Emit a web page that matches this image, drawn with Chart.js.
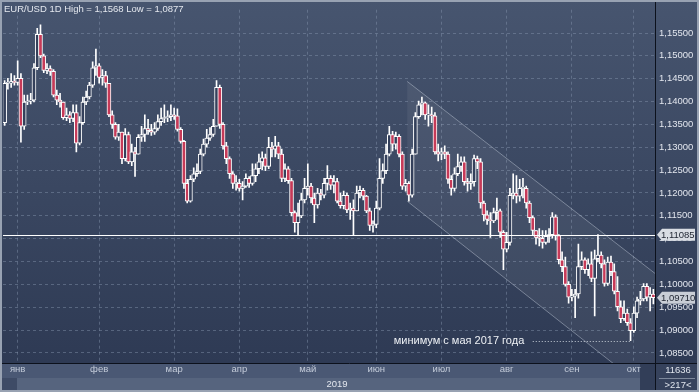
<!DOCTYPE html>
<html lang="ru">
<head>
<meta charset="utf-8" />
<title>EUR/USD 1D</title>
<style>
  html, body { margin: 0; padding: 0; background: #2c3852; }
  #wrap { width: 699px; height: 392px; }
</style>
</head>
<body>
<div id="wrap"><canvas id="chart" width="699" height="392"></canvas></div>
<script src="https://cdn.jsdelivr.net/npm/chart.js@4.4.4/dist/chart.umd.min.js"></script>
<script>
// daily EUR/USD, late Dec 2018 .. early Oct 2019 (one value per bar)
const firstOpen = 1.1354;
const closes = [
  1.1440, 1.1440, 1.1444, 1.1442, 1.1451, 1.1346, 1.1399, 1.1401, 1.1403, 1.1474,
  1.1547, 1.1500, 1.1468, 1.1472, 1.1466, 1.1414, 1.1403, 1.1399, 1.1365, 1.1371,
  1.1363, 1.1376, 1.1309, 1.1354, 1.1399, 1.1410, 1.1436, 1.1474, 1.1478, 1.1453,
  1.1457, 1.1440, 1.1371, 1.1350, 1.1322, 1.1333, 1.1275, 1.1328, 1.1268, 1.1290,
  1.1285, 1.1322, 1.1328, 1.1341, 1.1337, 1.1333, 1.1341, 1.1356, 1.1363, 1.1365,
  1.1367, 1.1371, 1.1369, 1.1339, 1.1313, 1.1221, 1.1182, 1.1230, 1.1242, 1.1247,
  1.1285, 1.1307, 1.1320, 1.1328, 1.1346, 1.1431, 1.1350, 1.1303, 1.1275, 1.1242,
  1.1221, 1.1221, 1.1210, 1.1215, 1.1232, 1.1221, 1.1238, 1.1253, 1.1268, 1.1277,
  1.1258, 1.1300, 1.1296, 1.1303, 1.1285, 1.1232, 1.1253, 1.1227, 1.1157, 1.1135,
  1.1150, 1.1185, 1.1210, 1.1215, 1.1189, 1.1174, 1.1200, 1.1195, 1.1221, 1.1232,
  1.1217, 1.1225, 1.1182, 1.1172, 1.1195, 1.1163, 1.1167, 1.1161, 1.1200, 1.1206,
  1.1193, 1.1161, 1.1129, 1.1131, 1.1167, 1.1232, 1.1249, 1.1285, 1.1328, 1.1307,
  1.1324, 1.1285, 1.1215, 1.1221, 1.1195, 1.1285, 1.1367, 1.1393, 1.1397, 1.1371,
  1.1371, 1.1369, 1.1290, 1.1285, 1.1290, 1.1285, 1.1230, 1.1210, 1.1242, 1.1258,
  1.1268, 1.1225, 1.1221, 1.1225, 1.1275, 1.1268, 1.1178, 1.1152, 1.1142, 1.1139,
  1.1157, 1.1161, 1.1114, 1.1077, 1.1092, 1.1195, 1.1200, 1.1193, 1.1210, 1.1210,
  1.1178, 1.1146, 1.1118, 1.1103, 1.1101, 1.1092, 1.1105, 1.1109, 1.1148, 1.1107,
  1.1054, 1.1039, 1.1000, 1.0972, 1.0974, 1.0979, 1.1039, 1.1054, 1.1032, 1.1045,
  1.1013, 1.1056, 1.1064, 1.1045, 1.1002, 1.1049, 1.1028, 1.0985, 1.0951, 1.0925,
  1.0937, 1.0916, 1.0899, 1.0937, 1.0964, 1.0968, 1.0996, 1.0972, 1.0979, 1.0971
];
const highs = [
  1.1446, 1.1451, 1.1461, 1.1457, 1.1489, 1.1461, 1.1414, 1.1414, 1.1418, 1.1483,
  1.1560, 1.1568, 1.1504, 1.1483, 1.1478, 1.1470, 1.1425, 1.1418, 1.1399, 1.1386,
  1.1378, 1.1393, 1.1393, 1.1367, 1.1410, 1.1423, 1.1442, 1.1487, 1.1515, 1.1483,
  1.1470, 1.1466, 1.1440, 1.1380, 1.1354, 1.1350, 1.1333, 1.1341, 1.1333, 1.1307,
  1.1300, 1.1328, 1.1346, 1.1371, 1.1361, 1.1350, 1.1354, 1.1371, 1.1386, 1.1393,
  1.1380, 1.1393, 1.1386, 1.1384, 1.1343, 1.1315, 1.1230, 1.1238, 1.1255, 1.1264,
  1.1296, 1.1318, 1.1339, 1.1343, 1.1361, 1.1446, 1.1436, 1.1354, 1.1311, 1.1279,
  1.1247, 1.1238, 1.1230, 1.1225, 1.1242, 1.1236, 1.1264, 1.1264, 1.1285, 1.1290,
  1.1285, 1.1322, 1.1311, 1.1324, 1.1311, 1.1296, 1.1264, 1.1258, 1.1232, 1.1161,
  1.1178, 1.1200, 1.1232, 1.1264, 1.1221, 1.1200, 1.1210, 1.1208, 1.1232, 1.1260,
  1.1238, 1.1238, 1.1232, 1.1200, 1.1204, 1.1200, 1.1178, 1.1185, 1.1215, 1.1215,
  1.1210, 1.1195, 1.1167, 1.1139, 1.1182, 1.1275, 1.1264, 1.1307, 1.1346, 1.1335,
  1.1333, 1.1328, 1.1290, 1.1230, 1.1225, 1.1296, 1.1376, 1.1401, 1.1410, 1.1399,
  1.1393, 1.1388, 1.1376, 1.1307, 1.1298, 1.1303, 1.1290, 1.1238, 1.1255, 1.1285,
  1.1279, 1.1279, 1.1232, 1.1242, 1.1283, 1.1281, 1.1275, 1.1182, 1.1161, 1.1157,
  1.1167, 1.1189, 1.1165, 1.1118, 1.1114, 1.1210, 1.1242, 1.1238, 1.1230, 1.1232,
  1.1215, 1.1182, 1.1150, 1.1118, 1.1122, 1.1118, 1.1118, 1.1122, 1.1157, 1.1152,
  1.1109, 1.1071, 1.1060, 1.1006, 1.0989, 1.0989, 1.1088, 1.1071, 1.1058, 1.1056,
  1.1071, 1.1075, 1.1109, 1.1071, 1.1054, 1.1060, 1.1062, 1.1045, 1.1017, 1.0964,
  1.0964, 1.0946, 1.0925, 1.0951, 1.0972, 1.0985, 1.1002, 1.1002, 1.0993, 1.0989
];
const lows = [
  1.1348, 1.1427, 1.1431, 1.1436, 1.1436, 1.1311, 1.1339, 1.1393, 1.1395, 1.1399,
  1.1470, 1.1496, 1.1463, 1.1461, 1.1457, 1.1410, 1.1393, 1.1388, 1.1361, 1.1358,
  1.1354, 1.1356, 1.1290, 1.1305, 1.1350, 1.1393, 1.1406, 1.1431, 1.1457, 1.1440,
  1.1436, 1.1431, 1.1367, 1.1341, 1.1318, 1.1315, 1.1264, 1.1270, 1.1264, 1.1260,
  1.1236, 1.1285, 1.1313, 1.1313, 1.1328, 1.1326, 1.1328, 1.1337, 1.1348, 1.1354,
  1.1356, 1.1358, 1.1361, 1.1335, 1.1309, 1.1210, 1.1178, 1.1180, 1.1225, 1.1236,
  1.1242, 1.1281, 1.1300, 1.1315, 1.1324, 1.1346, 1.1341, 1.1296, 1.1264, 1.1232,
  1.1210, 1.1206, 1.1204, 1.1185, 1.1212, 1.1212, 1.1217, 1.1225, 1.1242, 1.1251,
  1.1249, 1.1253, 1.1279, 1.1279, 1.1275, 1.1225, 1.1225, 1.1221, 1.1150, 1.1114,
  1.1109, 1.1146, 1.1178, 1.1195, 1.1178, 1.1135, 1.1167, 1.1185, 1.1189, 1.1206,
  1.1208, 1.1200, 1.1178, 1.1167, 1.1165, 1.1157, 1.1142, 1.1109, 1.1161, 1.1189,
  1.1185, 1.1157, 1.1118, 1.1114, 1.1124, 1.1163, 1.1221, 1.1242, 1.1281, 1.1292,
  1.1296, 1.1279, 1.1208, 1.1204, 1.1182, 1.1191, 1.1285, 1.1363, 1.1371, 1.1361,
  1.1346, 1.1354, 1.1285, 1.1270, 1.1273, 1.1275, 1.1221, 1.1195, 1.1204, 1.1238,
  1.1247, 1.1217, 1.1204, 1.1208, 1.1215, 1.1253, 1.1167, 1.1139, 1.1131, 1.1103,
  1.1135, 1.1142, 1.1103, 1.1032, 1.1071, 1.1086, 1.1187, 1.1178, 1.1182, 1.1189,
  1.1167, 1.1135, 1.1109, 1.1088, 1.1084, 1.1079, 1.1088, 1.1092, 1.1101, 1.1097,
  1.1045, 1.1028, 1.0996, 1.0959, 1.0964, 1.0927, 1.0970, 1.1032, 1.1024, 1.1019,
  1.1006, 1.0931, 1.1049, 1.1036, 1.0996, 1.0998, 1.1019, 1.0979, 1.0942, 1.0916,
  1.0921, 1.0910, 1.0877, 1.0895, 1.0927, 1.0955, 1.0964, 1.0964, 1.0942, 1.0957
];

// x axis: month names and the bar where each month starts
const monthLabels = ['янв', 'фев', 'мар', 'апр', 'май', 'июн', 'июл', 'авг', 'сен', 'окт'];
const monthIndex = [4, 29, 52, 72, 93, 114, 134, 154, 174, 193];
const yearLabel = '2019';

// y axis
const yTicks = [1.085, 1.09, 1.095, 1.1, 1.105, 1.11, 1.115, 1.12, 1.125, 1.13, 1.135, 1.14, 1.145, 1.15, 1.155];
const yMin = 1.0828;
const yMax = 1.1601;

// drawn objects
const levelLine = 1.11085;
const lastPrice = 1.0971;
const channelBars = [123.5, 199.5];
const channelUpper = [1.1444, 1.1024];
const channelLower = [1.1182, 1.0755];
const noteText = 'минимум с мая 2017 года';
const noteBars = [159.4, 162, 192];
const notePrice = 1.0877;
const titleText = 'EUR/USD 1D High = 1,1568 Low = 1,0877';
const cornerText = ['11636', '>217<'];

const opens = closes.map((c, i) => i ? closes[i - 1] : firstOpen);
const labels = closes.map((c, i) => {
  const k = monthIndex.indexOf(i);
  return k >= 0 ? monthLabels[k] : '';
});
const fmt = v => v.toFixed(5).replace('.', ',');
const FONT = "'Liberation Sans', Arial, sans-serif";

const chartBg = {
  id: 'chartBg',
  beforeDraw(chart) {
    const { ctx, chartArea: a, width, height } = chart;
    ctx.save();
    const g = ctx.createLinearGradient(0, 0, 0, a.bottom);
    g.addColorStop(0, '#47556f');
    g.addColorStop(1, '#2e3a54');
    ctx.fillStyle = g;
    ctx.fillRect(0, 0, width, a.bottom);
    ctx.fillStyle = '#4a5874';
    ctx.fillRect(0, a.bottom, a.right, 15);
    ctx.fillStyle = '#56647e';
    ctx.fillRect(0, a.bottom + 15, a.right, height - a.bottom - 15);
    ctx.fillStyle = '#3e4b66';
    ctx.fillRect(0, a.bottom + 15, 17, height - a.bottom - 15);
    ctx.fillStyle = '#323e58';
    ctx.fillRect(a.right - 15, a.bottom, 15, height - a.bottom);
    ctx.fillStyle = '#36425c';
    ctx.fillRect(a.right, a.bottom, width - a.right, height - a.bottom);
    ctx.restore();
  }
};

const overlays = {
  id: 'overlays',
  beforeDatasetsDraw(chart) {
    const { ctx, chartArea: a, scales: { x, y } } = chart;
    const x0 = x.getPixelForValue(channelBars[0]), x1 = x.getPixelForValue(channelBars[1]);
    ctx.save();
    ctx.beginPath();
    ctx.rect(a.left, a.top, a.right - a.left, a.bottom - a.top);
    ctx.clip();
    ctx.beginPath();
    ctx.moveTo(x0, y.getPixelForValue(channelUpper[0]));
    ctx.lineTo(x1, y.getPixelForValue(channelUpper[1]));
    ctx.lineTo(x1, y.getPixelForValue(channelLower[1]));
    ctx.lineTo(x0, y.getPixelForValue(channelLower[0]));
    ctx.closePath();
    ctx.fillStyle = 'rgba(255,255,255,0.06)';
    ctx.fill();
    ctx.strokeStyle = 'rgba(200,208,222,0.45)';
    ctx.lineWidth = 1;
    ctx.beginPath();
    ctx.moveTo(x0, y.getPixelForValue(channelUpper[0]));
    ctx.lineTo(x1, y.getPixelForValue(channelUpper[1]));
    ctx.moveTo(x0, y.getPixelForValue(channelLower[0]));
    ctx.lineTo(x1, y.getPixelForValue(channelLower[1]));
    ctx.stroke();
    ctx.restore();
  },
  afterDatasetsDraw(chart) {
    const { ctx, chartArea: a, scales: { x, y } } = chart;
    ctx.save();
    const ly = Math.round(y.getPixelForValue(levelLine)) + 0.5;
    ctx.strokeStyle = '#ffffff';
    ctx.lineWidth = 1;
    ctx.beginPath();
    ctx.moveTo(a.left, ly);
    ctx.lineTo(a.right, ly);
    ctx.stroke();

    const ny = Math.round(y.getPixelForValue(notePrice)) + 0.5;
    ctx.strokeStyle = 'rgba(225,230,238,0.85)';
    ctx.setLineDash([1, 2]);
    ctx.beginPath();
    ctx.moveTo(x.getPixelForValue(noteBars[1]), ny);
    ctx.lineTo(x.getPixelForValue(noteBars[2]), ny);
    ctx.stroke();
    ctx.setLineDash([]);
    ctx.fillStyle = '#eef1f5';
    ctx.font = '11px ' + FONT;
    ctx.textAlign = 'right';
    ctx.textBaseline = 'middle';
    ctx.fillText(noteText, x.getPixelForValue(noteBars[0]), ny - 1);
    ctx.restore();
  },
  afterDraw(chart) {
    const { ctx, chartArea: a, width, height, scales: { y } } = chart;
    ctx.save();
    // axis lines
    ctx.strokeStyle = '#0c111c';
    ctx.lineWidth = 1;
    ctx.beginPath();
    ctx.moveTo(a.right + 0.5, 2);
    ctx.lineTo(a.right + 0.5, height - 2);
    ctx.moveTo(2, a.bottom + 0.5);
    ctx.lineTo(width - 2, a.bottom + 0.5);
    ctx.stroke();
    ctx.strokeStyle = '#7d889b';
    ctx.beginPath();
    ctx.moveTo(a.right + 4, a.bottom + 15.5);
    ctx.lineTo(width - 4, a.bottom + 15.5);
    ctx.stroke();

    // price tags on the right axis
    const tag = (v, bg) => {
      const ty = y.getPixelForValue(v);
      ctx.beginPath();
      ctx.moveTo(a.right + 2, ty);
      ctx.lineTo(a.right + 7, ty - 6);
      ctx.lineTo(a.right + 40, ty - 6);
      ctx.lineTo(a.right + 40, ty + 6);
      ctx.lineTo(a.right + 7, ty + 6);
      ctx.closePath();
      ctx.fillStyle = bg;
      ctx.fill();
      ctx.fillStyle = '#1e2430';
      ctx.font = '9.5px ' + FONT;
      ctx.textAlign = 'left';
      ctx.textBaseline = 'middle';
      ctx.fillText(fmt(v), a.right + 6, ty + 0.5);
    };
    tag(levelLine, '#d9dde3');
    tag(lastPrice, '#c9ced6');

    // title and other captions
    ctx.fillStyle = '#e3e7ee';
    ctx.font = '9.5px ' + FONT;
    ctx.textAlign = 'left';
    ctx.textBaseline = 'middle';
    ctx.fillText(titleText, 4, 9);
    ctx.textAlign = 'center';
    ctx.fillText(yearLabel, 337, a.bottom + 21.5);
    ctx.fillStyle = '#dfe4ec';
    ctx.fillText(cornerText[0], (a.right + width) / 2 + 1, a.bottom + 7.5);
    ctx.fillText(cornerText[1], (a.right + width) / 2 + 1, a.bottom + 22);

    // outer frame
    ctx.strokeStyle = '#98a2b2';
    ctx.lineWidth = 2;
    ctx.strokeRect(1, 1, width - 2, height - 2);
    ctx.restore();
  }
};

new Chart(document.getElementById('chart'), {
  type: 'bar',
  data: {
    labels: labels,
    datasets: [
      {
        label: 'body',
        data: closes.map((c, i) => [Math.min(opens[i], c), Math.max(opens[i], c)]),
        backgroundColor: closes.map((c, i) => c < opens[i] ? '#c63a58' : '#34405b'),
        borderColor: '#ffffff',
        borderWidth: 1,
        borderSkipped: false,
        barThickness: 4,
        minBarLength: 1,
        grouped: false,
        order: 0
      },
      {
        label: 'wick',
        data: lows.map((l, i) => [l, highs[i]]),
        backgroundColor: '#ffffff',
        barThickness: 1,
        grouped: false,
        order: 1
      }
    ]
  },
  options: {
    responsive: false,
    animation: false,
    layout: { padding: { left: 3, top: 3, right: 0, bottom: 0 } },
    plugins: { legend: { display: false }, tooltip: { enabled: false } },
    scales: {
      x: {
        offset: true,
        grid: { offset: false, color: 'rgba(135,150,175,0.45)', drawTicks: false },
        border: { display: false, dash: [3, 3] },
        ticks: {
          autoSkip: false,
          maxRotation: 0,
          padding: 1,
          color: '#c3cbd9',
          font: { family: FONT, size: 9.5 },
          callback: (v, i) => labels[i] || null
        },
        afterFit: s => { s.height = 29; }
      },
      y: {
        position: 'right',
        min: yMin,
        max: yMax,
        grid: { color: 'rgba(135,150,175,0.45)', drawTicks: false },
        border: { display: false, dash: [3, 3] },
        afterBuildTicks: s => { s.ticks = yTicks.map(v => ({ value: v })); },
        ticks: {
          padding: 4,
          color: '#e2e6ee',
          font: { family: FONT, size: 9.5 },
          callback: v => fmt(v)
        },
        afterFit: s => { s.width = 44; }
      }
    }
  },
  plugins: [chartBg, overlays]
});
</script>
</body>
</html>
